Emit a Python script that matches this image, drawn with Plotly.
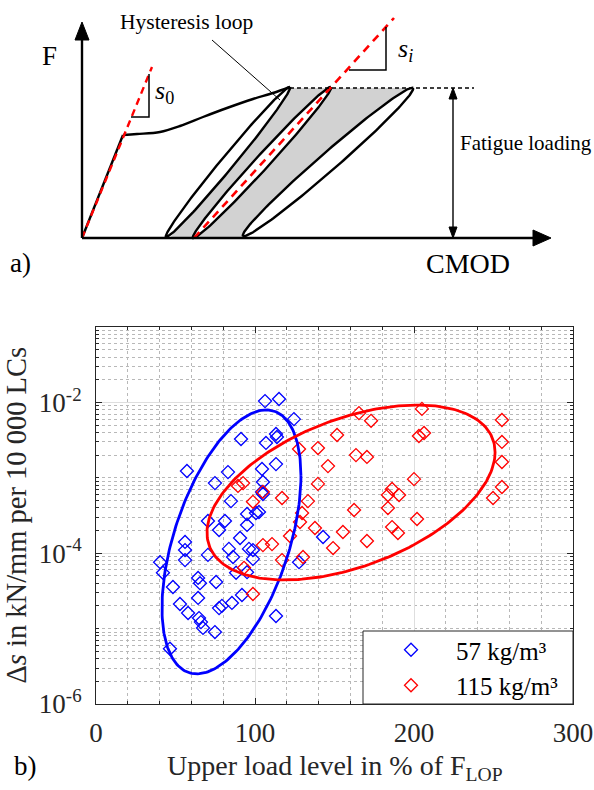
import numpy as np
import plotly.graph_objects as go

W, H = 594, 790
FONT = "Liberation Serif"

# ---------------- panel b data ----------------
x_57 = [106.3, 115.1, 124.5, 91.2, 106.9, 113.2, 113.8, 57.2, 83.0, 74.8,
        104.4, 105.0, 113.2, 84.9, 104.4, 105.0, 70.4, 81.1, 77.4, 95.0,
        95.0, 100.6, 102.5, 90.6, 142.8, 56.0, 56.0, 56.0, 40.3, 42.1,
        70.4, 83.6, 86.2, 96.2, 98.7, 98.7, 127.7, 88.1, 95.0, 48.4,
        52.8, 57.9, 64.2, 65.4, 64.2, 75.5, 64.8, 66.0, 67.3, 74.8,
        77.4, 79.2, 85.5, 91.8, 113.2, 46.5]
y_57 = [1.04e-2, 1.11e-2, 6.0e-3, 3.27e-3, 2.90e-3, 3.81e-3, 3.48e-3, 1.23e-3, 1.19e-3, 8.5e-4,
        1.31e-3, 8.8e-4, 1.52e-3, 4.9e-4, 6.5e-4, 6.1e-4, 2.67e-4, 2.67e-4, 2.03e-4, 3.31e-4,
        2.37e-4, 3.41e-4, 3.52e-4, 1.59e-4, 1.64e-4, 1.41e-4, 1.10e-4, 8.1e-5, 7.6e-5, 5.5e-5,
        9.5e-5, 1.14e-4, 8.9e-5, 1.14e-4, 1.10e-4, 8.4e-5, 7.6e-5, 5.5e-5, 5.6e-5, 3.56e-5,
        2.12e-5, 1.61e-5, 4.7e-5, 4.0e-5, 2.55e-5, 4.15e-5, 1.38e-5, 1.22e-5, 1.02e-5, 9.0e-6,
        1.87e-5, 2.0e-5, 2.19e-5, 2.79e-5, 1.47e-5, 5.4e-6]

x_115 = [165.4, 173.0, 205.0, 255.3, 151.6, 203.1, 206.3, 255.3, 139.6, 127.7,
         163.5, 170.4, 145.9, 255.3, 200.0, 139.6, 255.3, 186.2, 190.6, 183.6,
         249.7, 117.0, 105.0, 133.3, 183.6, 162.3, 201.9, 129.6, 128.3, 137.7,
         155.3, 186.2, 189.9, 122.0, 170.4, 149.1, 105.0, 110.7, 130.2, 117.0,
         89.3, 92.5, 98.7, 93.1, 98.7]
y_115 = [7.2e-3, 5.7e-3, 8.2e-3, 5.85e-3, 3.70e-3, 3.58e-3, 3.93e-3, 2.99e-3, 2.48e-3, 2.41e-3,
         2.0e-3, 1.89e-3, 1.43e-3, 1.62e-3, 9.6e-4, 8.3e-4, 7.55e-4, 7.1e-4, 5.9e-4, 5.9e-4,
         5.4e-4, 5.4e-4, 6.5e-4, 4.9e-4, 3.97e-4, 3.74e-4, 2.84e-4, 3.41e-4, 2.59e-4, 2.16e-4,
         1.91e-4, 2.22e-4, 1.85e-4, 1.69e-4, 1.45e-4, 1.17e-4, 1.28e-4, 1.32e-4, 8.9e-5, 8.1e-5,
         7.8e-4, 8.5e-4, 4.8e-4, 6.4e-5, 2.88e-5]

# ellipses: centre x, half-width x, centre log10(y), half-height log10(y), correlation
ell_57 = dict(cx=85.2, hx=43.7, cy=-3.85, hy=1.75, rho=0.50)
ell_115 = dict(cx=160.4, hx=90.6, cy=-3.195, hy=1.16, rho=0.46)

x_ticks = [0, 100, 200, 300]
y_ticks = [1e-6, 1e-4, 1e-2]
y_ticktext = ["10<sup>-6</sup>", "10<sup>-4</sup>", "10<sup>-2</sup>"]
names = ["57 kg/m³", "115 kg/m³"]
colors = ["#0000ff", "#ff0000"]

# ---------------- panel a schematic (pixel units of the sketch) ----------------
envelope_x = [123, 137, 160, 180, 203, 227, 253, 273, 290]
envelope_y = [135, 134, 132, 126, 117, 108, 99, 93, 87]
loops = [((166, 237), (290, 87), 6.5), ((193, 238), (331, 87), 7.0), ((243, 236), (413, 88), 9.0)]
grey_x = [170, 290, 412, 246]
grey_y = [238, 88, 88, 238]


def ellipse(e):
    t = np.linspace(0, 2 * np.pi, 240)
    phi = np.arccos(e["rho"])
    xs = e["cx"] + e["hx"] * np.cos(t)
    ys = 10 ** (e["cy"] + e["hy"] * np.cos(t - phi))
    return xs, ys


def loop_shape(p0, p1, hw):
    p0 = np.array(p0, float); p1 = np.array(p1, float)
    c = (p0 + p1) / 2
    d = p1 - p0
    a = np.linalg.norm(d) / 2
    u = d / np.linalg.norm(d)
    n = np.array([-u[1], u[0]])
    t = np.linspace(0, 2 * np.pi, 200)
    pts = c[None, :] + (a * np.cos(t))[:, None] * u[None, :] + (hw * np.sin(t))[:, None] * n[None, :]
    return pts[:, 0], pts[:, 1]


fig = go.Figure()

# scatter
for xs, ys, nm, col in [(x_57, y_57, names[0], colors[0]), (x_115, y_115, names[1], colors[1])]:
    fig.add_trace(go.Scatter(x=xs, y=ys, mode="markers", name=nm,
                             marker=dict(symbol="diamond-open", size=10, color=col,
                                         line=dict(width=1.3, color=col))))
for e, col in [(ell_57, colors[0]), (ell_115, colors[1])]:
    ex, ey = ellipse(e)
    fig.add_trace(go.Scatter(x=ex, y=ey, mode="lines", line=dict(color=col, width=2.8),
                             showlegend=False, hoverinfo="skip"))

# schematic traces on overlay axes
S = dict(xaxis="x2", yaxis="y2", showlegend=False, hoverinfo="skip")
fig.add_trace(go.Scatter(x=grey_x + [grey_x[0]], y=grey_y + [grey_y[0]], mode="lines", fill="toself",
                         fillcolor="#d2d2d2", line=dict(width=0, color="#d2d2d2"), **S))
for p0, p1, hw in loops:
    lx, ly = loop_shape(p0, p1, hw)
    fig.add_trace(go.Scatter(x=lx, y=ly, mode="lines", fill="toself", fillcolor="white",
                             line=dict(color="black", width=2.4), **S))
# envelope curve
fig.add_trace(go.Scatter(x=envelope_x, y=envelope_y, mode="lines", line=dict(color="black", width=2.4, shape="spline"), **S))
# initial loading segment (black) with red dashes on top
fig.add_trace(go.Scatter(x=[82, 123], y=[238, 135], mode="lines", line=dict(color="black", width=2.4), **S))
fig.add_trace(go.Scatter(x=[82, 152], y=[238, 67], mode="lines", line=dict(color="red", width=2.4, dash="7px,5px"), **S))
# s_i dashed line
fig.add_trace(go.Scatter(x=[194, 394], y=[238, 18], mode="lines", line=dict(color="red", width=2.6, dash="8px,6px"), **S))
# slope triangles
fig.add_trace(go.Scatter(x=[149, 149, 131], y=[74, 117, 117], mode="lines", line=dict(color="black", width=1.5), **S))
fig.add_trace(go.Scatter(x=[386, 386, 349], y=[27, 70, 70], mode="lines", line=dict(color="black", width=1.5), **S))
# axes of sketch
fig.add_trace(go.Scatter(x=[82, 82], y=[238, 36], mode="lines", line=dict(color="black", width=2.4), **S))
fig.add_trace(go.Scatter(x=[82, 536], y=[238, 238], mode="lines", line=dict(color="black", width=2.4), **S))
fig.add_trace(go.Scatter(x=[75, 82, 89, 75], y=[40, 22, 40, 40], mode="lines", fill="toself", fillcolor="black",
                         line=dict(color="black", width=1), **S))
fig.add_trace(go.Scatter(x=[533, 551, 533, 533], y=[230, 238, 246, 230], mode="lines", fill="toself", fillcolor="black",
                         line=dict(color="black", width=1), **S))
# upper load dashed line
fig.add_trace(go.Scatter(x=[290, 474], y=[88, 88], mode="lines", line=dict(color="black", width=1.4, dash="4px,3px"), **S))
# double arrow (fatigue loading)
fig.add_trace(go.Scatter(x=[453, 453], y=[98, 228], mode="lines", line=dict(color="black", width=1.4), **S))
fig.add_trace(go.Scatter(x=[449, 453, 457, 449], y=[99, 88, 99, 99], mode="lines", fill="toself", fillcolor="black",
                         line=dict(color="black", width=1), **S))
fig.add_trace(go.Scatter(x=[449, 453, 457, 449], y=[227, 238, 227, 227], mode="lines", fill="toself", fillcolor="black",
                         line=dict(color="black", width=1), **S))
# leader line
fig.add_trace(go.Scatter(x=[212, 280], y=[40, 100], mode="lines", line=dict(color="black", width=1), **S))

def px(v):
    return v / W

def py(v):
    return 1 - v / H

annotations = []
def sk_text(x, y, txt, size, xanchor="center"):
    annotations.append(dict(x=x, y=y, xref="x2", yref="y2", text=txt, showarrow=False,
                            font=dict(family=FONT, size=size, color="black"), xanchor=xanchor, yanchor="middle"))

sk_text(186, 22, "Hysteresis loop", 21.5)
sk_text(49, 56, "F", 27)
sk_text(468, 263, "CMOD", 28)
sk_text(20, 263, "a)", 27)
sk_text(164, 92, "<i>s</i><sub>0</sub>", 26)
sk_text(405, 50, "<i>s</i><sub><i>i</i></sub>", 26)
sk_text(458, 143, "Fatigue loading", 21, xanchor="left")

annotations.append(dict(x=px(16), y=py(515.5), xref="paper", yref="paper", textangle=-90,
                        text="Δ<i>s</i> in kN/mm per 10 000 LCs", showarrow=False,
                        font=dict(family=FONT, size=28.5, color="#262626"), xanchor="center", yanchor="middle"))
annotations.append(dict(x=px(335), y=py(767), xref="paper", yref="paper",
                        text="Upper load level in % of F<sub>LOP</sub>", showarrow=False,
                        font=dict(family=FONT, size=28, color="#262626"), xanchor="center", yanchor="middle"))
annotations.append(dict(x=px(25), y=py(766), xref="paper", yref="paper", text="b)", showarrow=False,
                        font=dict(family=FONT, size=27, color="black"), xanchor="center", yanchor="middle"))

axis_common = dict(showline=True, linecolor="#262626", linewidth=1, mirror="ticks", ticks="inside",
                   ticklen=6, tickcolor="#262626", showgrid=True, gridcolor="#dedede", gridwidth=1,
                   zeroline=False, fixedrange=True,
                   tickfont=dict(family=FONT, size=27, color="#262626"))

minor_y = [k * 10.0 ** e for e in range(-6, -1) for k in range(2, 10)] + [1e-5, 1e-3]

fig.update_layout(
    width=W, height=H, margin=dict(l=0, r=0, t=0, b=0),
    paper_bgcolor="white", plot_bgcolor="white",
    xaxis=dict(domain=[px(96), px(573)], range=[0, 300], tickvals=x_ticks, automargin=False,
               ticklabelstandoff=5,
               minor=dict(tickvals=list(range(20, 300, 20)), showgrid=True, gridcolor="#b8b8b8",
                          griddash="dot", ticks="inside", ticklen=3, tickcolor="#262626"),
               **axis_common),
    yaxis=dict(domain=[py(704), py(327)], type="log", range=[-6, -1], tickvals=y_ticks,
               ticktext=y_ticktext, automargin=False, ticklabelstandoff=8,
               minor=dict(tickvals=minor_y, showgrid=True, gridcolor="#b8b8b8", griddash="dot",
                          ticks="inside", ticklen=3, tickcolor="#262626"),
               **axis_common),
    xaxis2=dict(domain=[0, 1], range=[0, W], visible=False, fixedrange=True, anchor="y2"),
    yaxis2=dict(domain=[py(285), 1], range=[285, 0], visible=False, fixedrange=True, anchor="x2"),
    showlegend=True,
    legend=dict(x=px(366), y=py(627), xanchor="left", yanchor="top", bgcolor="rgba(0,0,0,0)",
                borderwidth=0, itemwidth=80, font=dict(family=FONT, size=25, color="black")),
    shapes=[dict(type="rect", xref="paper", yref="paper", x0=px(363), x1=px(573), y0=py(704), y1=py(631),
                 fillcolor="white", line=dict(color="#262626", width=1), layer="above")],
    annotations=annotations,
)

fig.write_html("out.html")
